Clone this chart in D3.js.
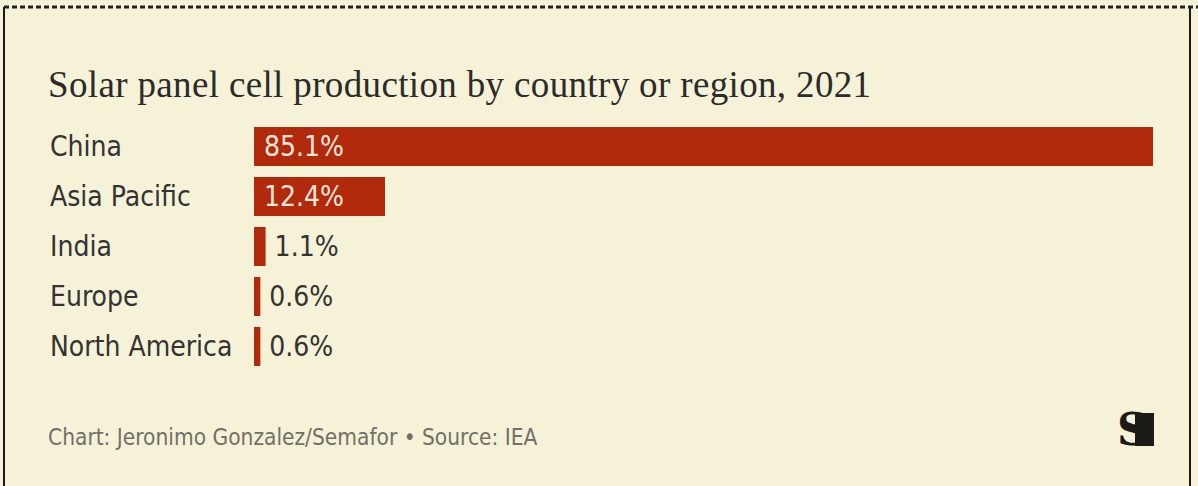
<!DOCTYPE html>
<html lang="en">
<head>
    <script src="https://d3js.org/d3.v7.min.js"></script>
    <style>
        body { margin: 0; background: #f6f2d7; }
    </style>
</head>
<body>
    <svg></svg>
    <script>
        // chart data
        const countries = ['China', 'Asia Pacific', 'India', 'Europe', 'North America']
        const shares = [85.1, 12.4, 1.1, 0.6, 0.6]
        const shareLabels = ['85.1%', '12.4%', '1.1%', '0.6%', '0.6%']

        const W = 1198, H = 486
        const BAR = '#b12a0b'
        const SANS = "'Liberation Sans Narrow', 'DejaVu Sans Condensed', 'Roboto', sans-serif"

        const svg = d3.select('svg')
            .attr('width', W)
            .attr('height', H)
            .style('display', 'block')

        svg.append('rect').attr('width', W).attr('height', H).attr('fill', '#f6f2d7')

        // frame: side lines and dashed top
        svg.append('line').attr('x1', 4).attr('x2', 4).attr('y1', 7).attr('y2', H)
            .attr('stroke', '#1b1b1b').attr('stroke-width', 2)
        svg.append('line').attr('x1', 1190).attr('x2', 1190).attr('y1', 7).attr('y2', H)
            .attr('stroke', '#1b1b1b').attr('stroke-width', 2)
        svg.append('line').attr('x1', 4).attr('x2', 1198).attr('y1', 7).attr('y2', 7)
            .attr('stroke', '#222').attr('stroke-width', 3).attr('stroke-dasharray', '5,3')

        svg.append('text')
            .attr('x', 48).attr('y', 97)
            .attr('font-family', "'Liberation Serif', 'DejaVu Serif', serif")
            .attr('font-size', 37)
            .attr('letter-spacing', 0.35)
            .attr('fill', '#2b2b2b')
            .text('Solar panel cell production by country or region, 2021')

        const x = d3.scaleLinear().domain([0, 85.1]).range([254, 1153])
        const y = d3.scaleBand().domain(countries).range([121.5, 371.5]).paddingInner(0.22).paddingOuter(0.11)

        const rows = svg.append('g').selectAll('g')
            .data(countries)
            .enter()
            .append('g')

        rows.append('rect')
            .attr('x', x(0))
            .attr('y', d => y(d))
            .attr('width', (d, i) => Math.max(5, x(shares[i]) - x(0)))
            .attr('height', y.bandwidth())
            .attr('fill', BAR)

        rows.append('text')
            .attr('x', 50)
            .attr('y', d => y(d) + y.bandwidth() / 2)
            .attr('dy', '0.35em')
            .attr('font-family', SANS)
            .attr('font-size', 28)
            .attr('fill', '#333')
            .text(d => d)

        rows.append('text')
            .attr('x', (d, i) => shares[i] > 5 ? x(0) + 10 : Math.max(x(0) + 5, x(shares[i])) + 9)
            .attr('y', d => y(d) + y.bandwidth() / 2)
            .attr('dy', '0.35em')
            .attr('font-family', SANS)
            .attr('font-size', 28)
            .attr('fill', (d, i) => shares[i] > 5 ? '#f7e6dc' : '#333')
            .text((d, i) => shareLabels[i])

        svg.append('text')
            .attr('x', 48).attr('y', 445)
            .attr('font-family', SANS)
            .attr('font-size', 22.5)
            .attr('fill', '#707068')
            .text('Chart: Jeronimo Gonzalez/Semafor \u2022 Source: IEA')

        // logo
        const logo = svg.append('g').attr('transform', 'translate(1117,411)')
        logo.append('rect').attr('x', 18).attr('y', 2).attr('width', 19).attr('height', 33).attr('fill', '#1c1a17')
        logo.append('text')
            .attr('x', 0).attr('y', 34)
            .attr('font-family', "'DejaVu Serif', serif")
            .attr('font-weight', 'bold')
            .attr('font-size', 44)
            .attr('fill', '#1c1a17')
            .text('S')
    </script>
</body>
</html>
